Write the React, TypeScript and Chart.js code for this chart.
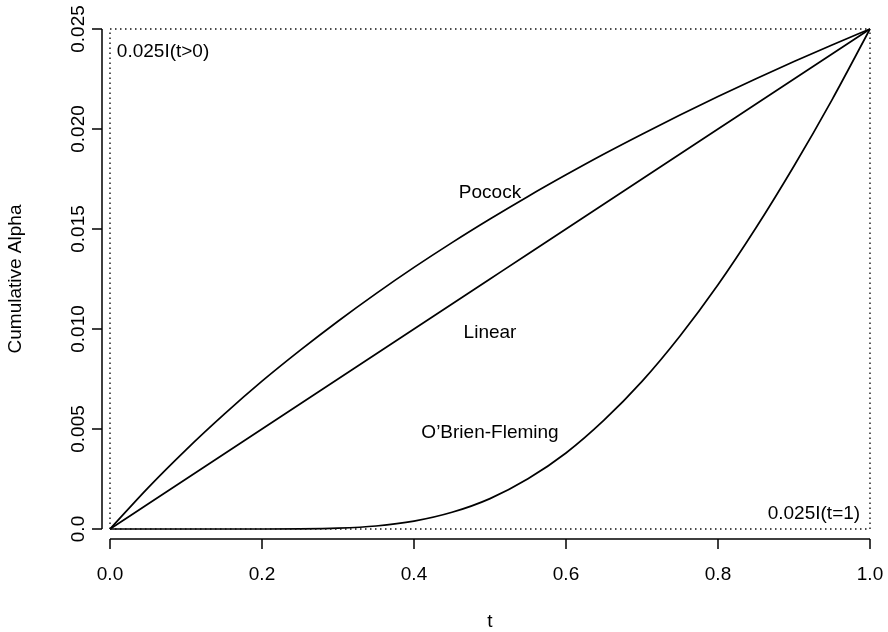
import { useEffect, useRef } from "react";
import { Chart, registerables } from "chart.js";

Chart.register(...registerables);

// information time grid
const tGrid = [0, 0.05, 0.1, 0.15, 0.2, 0.25, 0.3, 0.35, 0.4, 0.45, 0.5, 0.55, 0.6, 0.65, 0.7, 0.75, 0.8, 0.85, 0.9, 0.95, 1];

// cumulative alpha spent by each spending function
const pocockAlpha = [0, 0.00206, 0.00396, 0.00573, 0.00739, 0.00893, 0.01039, 0.01177, 0.01308, 0.01432, 0.0155, 0.01663, 0.01771, 0.01875, 0.01974, 0.0207, 0.02162, 0.02251, 0.02337, 0.0242, 0.025];
const linearAlpha = [0, 0.00125, 0.0025, 0.00375, 0.005, 0.00625, 0.0075, 0.00875, 0.01, 0.01125, 0.0125, 0.01375, 0.015, 0.01625, 0.0175, 0.01875, 0.02, 0.02125, 0.0225, 0.02375, 0.025];
const obfAlpha = [0, 0, 0, 0, 0.000001, 0.000007, 0.000043, 0.000151, 0.000394, 0.000835, 0.00152, 0.00251, 0.0038, 0.00544, 0.00738, 0.00965, 0.01221, 0.01506, 0.01815, 0.02146, 0.025];

// limiting step functions
const stepPosT = [0, 0, 1];
const stepPosAlpha = [0, 0.025, 0.025];
const stepEndT = [0, 1, 1];
const stepEndAlpha = [0, 0, 0.025];

// axis tick labels
const xTickLabels = ["0.0", "0.2", "0.4", "0.6", "0.8", "1.0"];
const yTickLabels = ["0.0", "0.005", "0.010", "0.015", "0.020", "0.025"];

// in-plot annotations
const curveNames = ["Pocock", "Linear", "O\u2019Brien-Fleming"];
const curveLabelT = [0.5, 0.5, 0.5];
const curveLabelAlpha = [0.01683, 0.00983, 0.00483];
const stepNames = ["0.025I(t>0)", "0.025I(t=1)"];
const stepLabelT = [0.009, 0.987];
const stepLabelAlpha = [0.02385, 0.00075];
const stepLabelAlign: CanvasTextAlign[] = ["left", "right"];

const FONT = "'Liberation Sans', Arial, Helvetica, sans-serif";

const pts = (xs: number[], ys: number[]) => xs.map((x, i) => ({ x, y: ys[i] }));

// R-style axes: lines offset from the plotting region, outward ticks
const offsetAxes = {
  id: "offsetAxes",
  afterDraw(chart: any) {
    const { ctx, chartArea, scales } = chart;
    const xs = scales.x;
    const ys = scales.y;
    ctx.save();
    ctx.strokeStyle = "#000";
    ctx.lineWidth = 1.5;
    ctx.beginPath();
    const ax = chartArea.left - 8;
    ctx.moveTo(ax, ys.getPixelForValue(ys.min));
    ctx.lineTo(ax, ys.getPixelForValue(ys.max));
    ys.ticks.forEach((t: any) => {
      const p = ys.getPixelForValue(t.value);
      ctx.moveTo(ax, p);
      ctx.lineTo(ax - 10, p);
    });
    const ay = chartArea.bottom + 10;
    ctx.moveTo(xs.getPixelForValue(xs.min), ay);
    ctx.lineTo(xs.getPixelForValue(xs.max), ay);
    xs.ticks.forEach((t: any) => {
      const p = xs.getPixelForValue(t.value);
      ctx.moveTo(p, ay);
      ctx.lineTo(p, ay + 10);
    });
    ctx.stroke();
    ctx.restore();
  },
};

const annotations = {
  id: "annotations",
  afterDatasetsDraw(chart: any) {
    const { ctx, scales } = chart;
    const xs = scales.x;
    const ys = scales.y;
    ctx.save();
    ctx.fillStyle = "#000";
    ctx.font = `19px ${FONT}`;
    ctx.textBaseline = "middle";
    ctx.textAlign = "center";
    curveNames.forEach((name, i) => {
      ctx.fillText(name, xs.getPixelForValue(curveLabelT[i]), ys.getPixelForValue(curveLabelAlpha[i]));
    });
    stepNames.forEach((name, i) => {
      ctx.textAlign = stepLabelAlign[i];
      ctx.fillText(name, xs.getPixelForValue(stepLabelT[i]), ys.getPixelForValue(stepLabelAlpha[i]));
    });
    ctx.restore();
  },
};

export default function App() {
  const canvasRef = useRef<HTMLCanvasElement>(null);

  useEffect(() => {
    if (!canvasRef.current) return;
    const curve = (data: number[]) => ({
      data: pts(tGrid, data),
      borderColor: "#000",
      borderWidth: 1.7,
      pointRadius: 0,
      cubicInterpolationMode: "monotone" as const,
      fill: false,
      clip: false as any,
    });
    const dotted = (xs: number[], ys: number[]) => ({
      data: pts(xs, ys),
      borderColor: "#111",
      borderWidth: 1.4,
      borderDash: [1.5, 3.5],
      pointRadius: 0,
      tension: 0,
      fill: false,
      clip: false as any,
    });

    const chart = new Chart(canvasRef.current, {
      type: "line",
      data: {
        datasets: [
          dotted(stepPosT, stepPosAlpha),
          dotted(stepEndT, stepEndAlpha),
          curve(pocockAlpha),
          curve(linearAlpha),
          curve(obfAlpha),
        ] as any,
      },
      options: {
        responsive: false,
        animation: false,
        layout: { padding: { top: 29, right: 18, left: 0, bottom: 0 } },
        plugins: {
          legend: { display: false },
          tooltip: { enabled: false },
        },
        scales: {
          x: {
            type: "linear",
            min: 0,
            max: 1,
            grid: { display: false, drawTicks: false },
            border: { display: false },
            ticks: {
              stepSize: 0.2,
              color: "#000",
              padding: 34,
              font: { family: FONT, size: 19 },
              callback: (v: any) => xTickLabels[Math.round(Number(v) / 0.2)],
            },
            title: {
              display: true,
              text: "t",
              color: "#000",
              font: { family: FONT, size: 19, lineHeight: 1 },
              padding: { top: 0, bottom: 1 },
            },
            afterFit: (s: any) => {
              s.height = 103;
              s.paddingLeft = 0;
              s.paddingRight = 0;
            },
          },
          y: {
            type: "linear",
            min: 0,
            max: 0.025,
            grid: { display: false, drawTicks: false },
            border: { display: false },
            ticks: {
              stepSize: 0.005,
              color: "#000",
              padding: 7,
              minRotation: 90,
              maxRotation: 90,
              crossAlign: "center",
              font: { family: FONT, size: 19 },
              callback: (v: any) => yTickLabels[Math.round(Number(v) / 0.005)],
            },
            title: {
              display: true,
              text: "Cumulative Alpha",
              color: "#000",
              font: { family: FONT, size: 19, lineHeight: 1 },
              padding: { top: 6, bottom: 0 },
            },
            afterFit: (s: any) => {
              s.width = 110;
              s.paddingTop = 0;
              s.paddingBottom = 0;
            },
          },
        },
      } as any,
      plugins: [offsetAxes, annotations],
    });
    return () => chart.destroy();
  }, []);

  return (
    <canvas
      ref={canvasRef}
      width={888}
      height={632}
      style={{ position: "fixed", left: 0, top: 0, background: "#fff" }}
    />
  );
}
